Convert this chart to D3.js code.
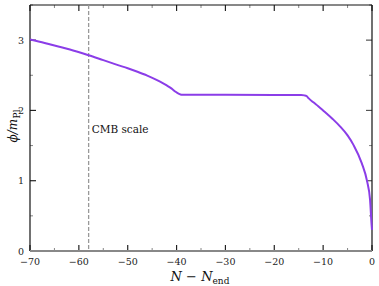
<!DOCTYPE html>
<html><head><meta charset="utf-8">
<script src="https://cdn.jsdelivr.net/npm/d3@7"></script>
<style>body{margin:0;background:#fff}svg{display:block}</style>
</head><body><svg id="c" width="379" height="286" font-family="'DejaVu Serif', 'Liberation Serif', serif"></svg>
<script>
const N = [-70,-67,-64,-61,-58,-55,-52,-50,-48,-46,-44,-42,-41,-40.2,-39.6,-39.2,-38.8,-30,-20,-14.5,-13.8,-13.4,-13,-12,-11,-10,-8,-6.5,-5,-3.8,-2.1,-1,-0.4,-0.07,0];
const phi = [3.01,2.96,2.905,2.85,2.785,2.715,2.645,2.60,2.55,2.495,2.43,2.355,2.31,2.265,2.238,2.226,2.222,2.222,2.221,2.218,2.214,2.205,2.175,2.115,2.06,2.0,1.875,1.77,1.645,1.51,1.25,0.99,0.73,0.36,0.3];
const cmbN = -58;
const xTicks = [-70,-60,-50,-40,-30,-20,-10,0];
const yTicks = [0,1,2,3];

const svg = d3.select("#c");
const m = {l:30, r:7, t:5, b:35};
const W = 379, H = 286;
const x = d3.scaleLinear().domain([-70,0]).range([m.l, W-m.r]);
const y = d3.scaleLinear().domain([0,3.5]).range([H-m.b, m.t]);

const minorX = d3.range(-65,0,10);
const minorY = [0.5,1.5,2.5,3.5];

const g = svg.append("g");
function tick(x1,y1,x2,y2,c,w){g.append("line").attr("x1",x1).attr("y1",y1).attr("x2",x2).attr("y2",y2).attr("stroke",c).attr("stroke-width",w);}
xTicks.forEach(v=>{tick(x(v),y(0),x(v),y(0)-6,"#222",1.2);tick(x(v),y(3.5),x(v),y(3.5)+6,"#222",1.2);});
minorX.forEach(v=>{tick(x(v),y(0),x(v),y(0)-3,"#666",0.8);tick(x(v),y(3.5),x(v),y(3.5)+3,"#666",0.8);});
yTicks.forEach(v=>{tick(x(-70),y(v),x(-70)+6,y(v),"#222",1.2);tick(x(0),y(v),x(0)-6,y(v),"#555",1.2);});
minorY.forEach(v=>{tick(x(-70),y(v),x(-70)+3,y(v),"#666",0.8);tick(x(0),y(v),x(0)-3,y(v),"#666",0.8);});

svg.append("line").attr("x1",x(-70)).attr("x2",x(0)).attr("y1",y(3.5)).attr("y2",y(3.5)).attr("stroke","#111").attr("stroke-width",1);
svg.append("line").attr("x1",x(-70)).attr("x2",x(-70)).attr("y1",y(3.5)).attr("y2",y(0)).attr("stroke","#111").attr("stroke-width",1.2);
svg.append("line").attr("x1",x(0)).attr("x2",x(0)).attr("y1",y(3.5)).attr("y2",y(0)).attr("stroke","#111").attr("stroke-width",1.2);

svg.append("line").attr("x1",x(cmbN)).attr("x2",x(cmbN)).attr("y1",y(3.5)).attr("y2",y(0))
  .attr("stroke","#999").attr("stroke-width",1.3).attr("stroke-dasharray","4,2");
svg.append("text").attr("x",x(cmbN)+3).attr("y",133).attr("font-size",10.5).attr("fill","#111").text("CMB scale");

svg.append("path").datum(N.map((n,i)=>[n,phi[i]]))
  .attr("d",d3.line().x(d=>x(d[0])).y(d=>y(d[1])).curve(d3.curveMonotoneX))
  .attr("fill","none").attr("stroke","#8b3de8").attr("stroke-width",2);

svg.append("line").attr("x1",x(-70)).attr("x2",x(0)).attr("y1",y(0)).attr("y2",y(0)).attr("stroke","#888").attr("stroke-width",2);

xTicks.forEach(v=>svg.append("text").attr("x",x(v)).attr("y",y(0)+14).attr("text-anchor","middle").attr("font-size",9.5).attr("fill","#222").text(v<0?"\u2212"+Math.abs(v):v));
yTicks.forEach(v=>svg.append("text").attr("x",x(-70)-6).attr("y",y(v)+3.5).attr("text-anchor","end").attr("font-size",9.5).attr("fill","#222").text(v));

const xl = svg.append("text").attr("x",200).attr("y",281).attr("text-anchor","middle").attr("font-size",13).attr("fill","#111");
xl.append("tspan").attr("font-style","italic").text("N");
xl.append("tspan").text(" \u2212 ");
xl.append("tspan").attr("font-style","italic").text("N");
xl.append("tspan").attr("font-size",9).attr("dy",2.5).text("end");

const yl = svg.append("text").attr("transform","translate(17,126) rotate(-90)").attr("text-anchor","middle").attr("font-size",12).attr("fill","#111");
yl.append("tspan").attr("font-style","italic").text("\u03D5/m");
yl.append("tspan").attr("font-size",9).attr("dy",2.5).attr("dx",0.5).text("Pl");
</script></body></html>
